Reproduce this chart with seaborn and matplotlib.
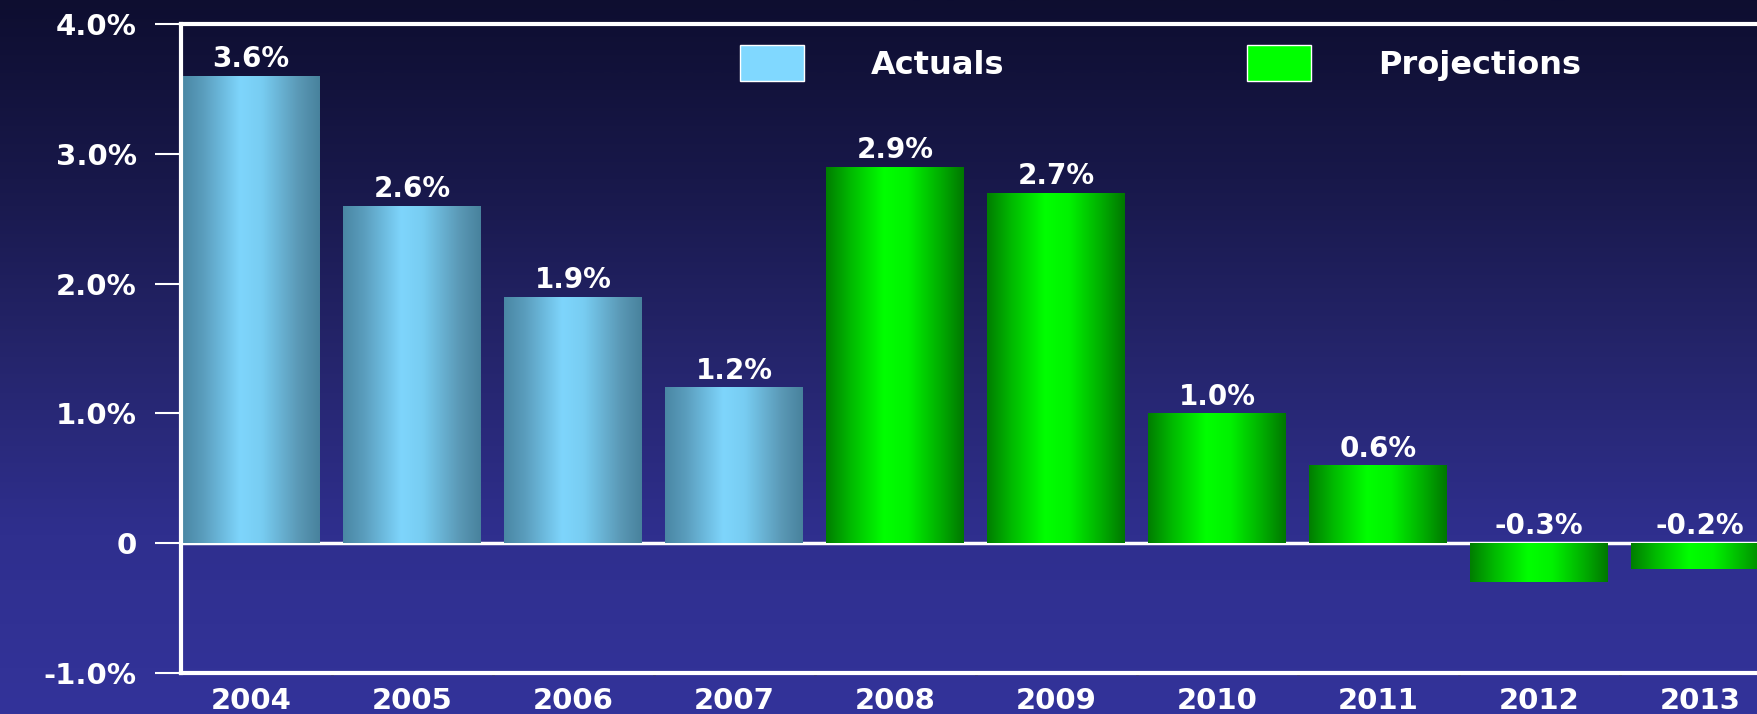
import numpy as np
import pandas as pd
import matplotlib
matplotlib.use("Agg")
import matplotlib.pyplot as plt
from matplotlib.colors import LinearSegmentedColormap
import seaborn as sns

# ---------------- data ----------------
years = ["2004", "2005", "2006", "2007", "2008", "2009", "2010", "2011", "2012", "2013"]
values = [3.6, 2.6, 1.9, 1.2, 2.9, 2.7, 1.0, 0.6, -0.3, -0.2]
kinds = ["Actuals"] * 4 + ["Projections"] * 6
ytick_values = [-1, 0, 1, 2, 3, 4]
ytick_labels = ["-1.0%", "0", "1.0%", "2.0%", "3.0%", "4.0%"]

df = pd.DataFrame({"year": years, "value": values, "kind": kinds})

# ---------------- style ----------------
sns.set_theme(style="white")
plt.rcParams["font.family"] = ["DejaVu Sans"]
plt.rcParams["font.weight"] = "bold"

W, H = 1758, 714
fig = plt.figure(figsize=(W / 100, H / 100), dpi=100)

# background vertical gradient
bg = fig.add_axes([0, 0, 1, 1], zorder=0)
bg_cmap = LinearSegmentedColormap.from_list(
    "bg", ["#0e0e30", "#18184a", "#25256c", "#2f2f8e", "#33339a"])
bg.imshow(np.linspace(0, 1, 256).reshape(-1, 1), aspect="auto", cmap=bg_cmap,
          extent=[0, 1, 0, 1])
bg.axis("off")

ax = fig.add_axes([181 / W, 41 / H, 1 - 181 / W, 649 / H], zorder=1)
ax.set_facecolor("none")

palette = {"Actuals": "#80d8ff", "Projections": "#00ff00"}
sns.barplot(data=df, x="year", y="value", hue="kind", palette=palette,
            dodge=False, width=0.857, ax=ax, saturation=1)

# cylinder-like shading on each bar
blue_cmap = LinearSegmentedColormap.from_list(
    "blue", [(0, "#4a87a4"), (0.15, "#5a9dbd"), (0.42, "#7ed5fc"), (0.58, "#78cdf2"),
             (0.85, "#5a98b5"), (1, "#48829d")])
green_cmap = LinearSegmentedColormap.from_list(
    "green", [(0, "#007e00"), (0.18, "#00bb00"), (0.42, "#00ff00"), (0.6, "#00f200"),
              (0.85, "#00a800"), (1, "#007800")])
grad = np.linspace(0, 1, 128).reshape(1, -1)
for p in list(ax.patches):
    h = p.get_height()
    if h == 0:
        continue
    x0, w, y0 = p.get_x(), p.get_width(), p.get_y()
    fc = p.get_facecolor()
    cmap = green_cmap if fc[0] < 0.2 and fc[1] > 0.9 else blue_cmap
    p.set_edgecolor("none")
    im = ax.imshow(grad, extent=[x0, x0 + w, min(y0, y0 + h), max(y0, y0 + h)],
                   aspect="auto", cmap=cmap, zorder=2.2, interpolation="bilinear")
    im.set_clip_path(p)

# zero line
ax.axhline(0, color="white", lw=2.5, zorder=1.9)

# value labels
for i, v in enumerate(values):
    ax.annotate(f"{v:.1f}%", xy=(i, max(v, 0)), xytext=(0, 2),
                textcoords="offset points", ha="center", va="bottom",
                fontsize=20, color="white", fontweight="bold", zorder=5)

# axes styling
ax.set_xlim(-0.435, 9.36)
ax.set_ylim(-1, 4)
ax.set_yticks(ytick_values)
ax.set_yticklabels(ytick_labels)
ax.set_xlabel("")
ax.set_ylabel("")
for side in ["left", "top", "bottom"]:
    ax.spines[side].set_visible(True)
    ax.spines[side].set_color("white")
    ax.spines[side].set_linewidth(3)
ax.spines["right"].set_visible(False)

ax.tick_params(axis="y", which="major", left=True, length=19, width=1.5,
               color="white", pad=13, labelsize=21, labelcolor="white", direction="out")
ax.tick_params(axis="x", which="major", bottom=True, length=0, pad=10,
               labelsize=21, labelcolor="white")
ax.set_xticks(np.arange(0.5, 9, 1), minor=True)
ax.tick_params(axis="x", which="minor", bottom=True, length=3, width=2,
               color="#333355", direction="inout")
for lab in ax.get_xticklabels() + ax.get_yticklabels():
    lab.set_fontweight("bold")

# legend
handles, labels = ax.get_legend_handles_labels()
if ax.get_legend() is not None:
    ax.get_legend().remove()
leg = fig.legend(handles, labels, loc="center left",
                 bbox_to_anchor=(740 / W, 1 - 63 / H), ncol=2, frameon=False,
                 fontsize=23, handlelength=2.0, handleheight=1.4,
                 handletextpad=2.1, columnspacing=7.6, borderpad=0,
                 borderaxespad=0)
for t in leg.get_texts():
    t.set_color("white")
    t.set_fontweight("bold")

fig.savefig("out.png", dpi=100)
